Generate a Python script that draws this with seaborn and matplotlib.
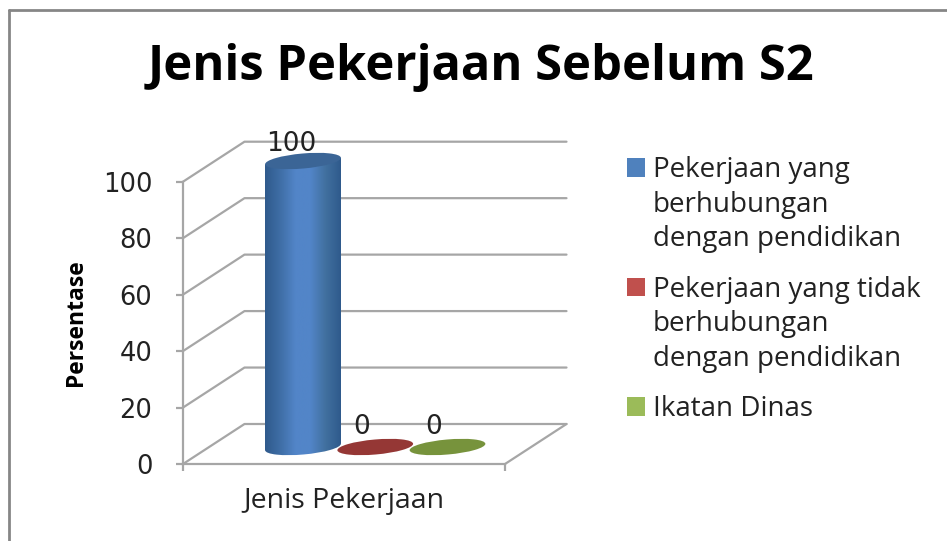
import numpy as np
import matplotlib
matplotlib.use('Agg')
import matplotlib.pyplot as plt
import seaborn as sns
from matplotlib.lines import Line2D
from matplotlib.patches import Ellipse, Patch, Polygon
from matplotlib.transforms import Affine2D, IdentityTransform

# Data
categories = ['Pekerjaan yang\nberhubungan\ndengan pendidikan',
              'Pekerjaan yang tidak\nberhubungan\ndengan pendidikan',
              'Ikatan Dinas']
values = [100, 0, 0]
y_ticks = [0, 20, 40, 60, 80, 100]
legend_colors = ['#4f81bd', '#c0504d', '#9bbb59']
cap_colors = ['#3b6596', '#953735', '#77933c']

W, H = 947, 541
GRID = '#a6a6a6'
DEPTH_X, DEPTH_Y = 61.5 / 322, 40 / 282.3 * 100
TILT = 3.3  # px rise of the disc ends

sns.set_theme(style='white')
plt.rcParams['font.family'] = ['DejaVu Sans']


def px_axes(fig, left, top, right, bottom):
    return fig.add_axes([left / W, 1 - bottom / H, (right - left) / W, (bottom - top) / H])


fig = plt.figure(figsize=(W / 100, H / 100), dpi=100)

# Outer frame (only left and top are visible in the crop)
fig.add_artist(Line2D([8.5 / W, 8.5 / W], [0, 1 - 9.5 / H], color='#868686', lw=2))
fig.add_artist(Line2D([8.5 / W, 1], [1 - 9.5 / H, 1 - 9.5 / H], color='#868686', lw=2))

fig.text(481 / W, 1 - 67 / H, 'Jenis Pekerjaan Sebelum S2', ha='center', va='center',
         fontsize=35.2, fontweight='bold', family='Open Sans', color='black')

# Front axes plus fake 3D walls
ax = px_axes(fig, 183, 181.7, 505, 464)
ax.set_xlim(0, 1)
ax.set_ylim(0, 100)
ax.patch.set_alpha(0)
for t in y_ticks:
    ax.plot([0, DEPTH_X, 1 + DEPTH_X], [t, t + DEPTH_Y, t + DEPTH_Y], color=GRID, lw=1.6, clip_on=False)
ax.plot([1, 1 + DEPTH_X], [0, DEPTH_Y], color=GRID, lw=1.6, clip_on=False)
sns.despine(ax=ax)
for side in ['left', 'bottom']:
    ax.spines[side].set_color(GRID)
    ax.spines[side].set_linewidth(1.6)
ax.set_yticks(y_ticks)
ax.set_xticks([0, 1])
ax.set_xticklabels(['', ''])
ax.tick_params(axis='both', color=GRID, length=5, width=1.6, left=True, bottom=True)
ax.tick_params(axis='y', labelsize=18.5, labelcolor='#222222', pad=17)
ax.set_xlabel('Jenis Pekerjaan', fontsize=20.5, family='Open Sans', color='#222222', labelpad=8)
ax.set_ylabel('Persentase', fontsize=16.5, fontweight='bold', family='Open Sans', color='black')
ax.yaxis.set_label_coords((88 - 183) / 322, 0.5)

# Cylinders sit mid depth, so they get their own axes
bar_ax = px_axes(fig, 210, 161, 536, 447)
bar_ax.patch.set_alpha(0)
sns.barplot(x=list(range(len(values))), y=values, hue=list(range(len(values))), palette=cap_colors,
            width=1.05, dodge=False, saturation=1, legend=False, ax=bar_ax)
bar_ax.set_xlim(-93 / 72.25, 233 / 72.25)
bar_ax.set_ylim(0, 100)
bar_ax.axis('off')


def disc(x, y, color, zorder):
    cx, cy = bar_ax.transData.transform((x, y))
    tr = Affine2D().scale(38, 7.5).rotate_deg(5).translate(cx, cy)
    e = Ellipse((0, 0), 2, 2, transform=tr, facecolor=color, edgecolor='none', zorder=zorder)
    bar_ax.add_artist(e)
    e.set_clip_on(False)
    return e


def body(x, v):
    # side outline joining the tilted ends of the two discs
    x0, y0 = bar_ax.transData.transform((x, 0))
    _, y1 = bar_ax.transData.transform((x, v))
    return Polygon([(x0 - 38, y0 - TILT), (x0 + 38, y0 + TILT), (x0 + 38, y1 + TILT), (x0 - 38, y1 - TILT)],
                   transform=IdentityTransform())


# side shading of the tall cylinder
shade = matplotlib.colors.LinearSegmentedColormap.from_list(
    'cyl', ['#2f5a8c', '#3f6ea6', '#5285c8', '#5285c8', '#41709f', '#2f5a8c'])
grad = np.linspace(0, 1, 128).reshape(1, -1)
for i, (patch, v) in enumerate(zip(bar_ax.patches, values)):
    x = patch.get_x() + patch.get_width() / 2
    patch.set_alpha(0)
    if v > 0:
        extent = [patch.get_x(), patch.get_x() + patch.get_width(), -5, v + 3]
        for clip in [body(x, v), disc(x, 0, 'none', 2)]:
            im = bar_ax.imshow(grad, extent=extent, aspect='auto', cmap=shade, zorder=3)
            im.set_clip_path(clip)
            im.set_clip_box(fig.bbox)
    disc(x, v, cap_colors[i], 4)
    off = 17 if v > 0 else 20
    shift = -12 if v > 0 else -14
    bar_ax.annotate(str(v), (x, v), xytext=(shift, off), textcoords='offset pixels', ha='center', va='center',
                    fontsize=19, color='#222222', zorder=5, annotation_clip=False)
bar_ax.set_xlim(-93 / 72.25, 233 / 72.25)
bar_ax.set_ylim(0, 100)

# Legend
handles = [Patch(facecolor=c, edgecolor='none') for c in legend_colors]
leg = fig.legend(handles, categories, loc='upper left', bbox_to_anchor=(627 / W, 1 - 156 / H), frameon=False,
                 prop={'family': 'Open Sans', 'size': 20}, handlelength=0.65, handleheight=0.65,
                 handletextpad=0.29, labelspacing=0.795, borderpad=0, borderaxespad=0, labelcolor='#222222')
for txt in leg.get_texts():
    txt.set_linespacing(1.32)
for row in leg._legend_handle_box.get_children()[0].get_children():
    row.align = 'top'
for h in leg.legend_handles:
    h.set_y(h.get_y() - 1.5)

fig.savefig('out.png', dpi=100)
